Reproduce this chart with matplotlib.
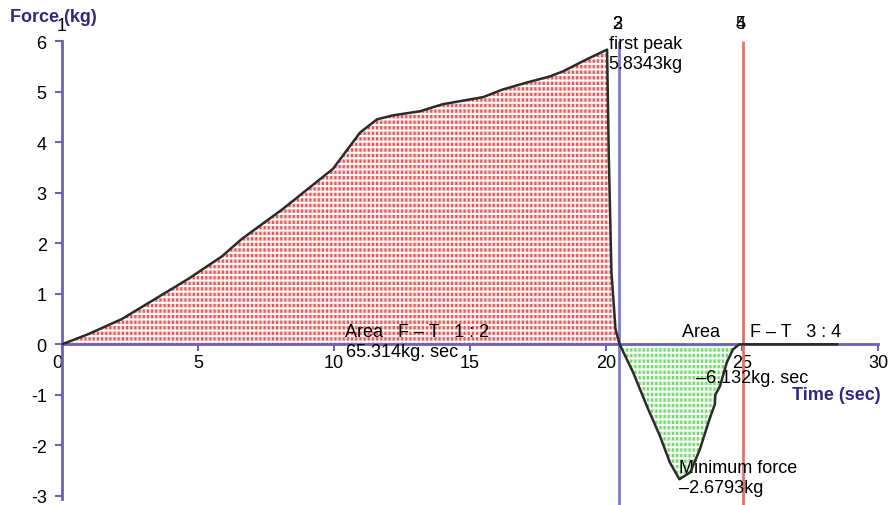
import numpy as np
import matplotlib; matplotlib.use("Agg")
import matplotlib.pyplot as plt

# force-time trace
t = [0, 0.96, 2.2, 3.4, 4.63, 5.88, 6.6, 8.1, 9.96, 10.96, 11.58, 12.17, 13.16, 14.0,
     15.48, 16.2, 17.1, 17.94, 18.42, 19.3, 20.04, 20.1, 20.2, 20.35, 20.5,
     21.0, 21.5, 21.98, 22.35, 22.7, 23.1, 23.45, 23.8, 24.0, 24.02, 24.19, 24.44,
     24.67, 24.9, 25.0, 28.5]
force = [0, 0.2, 0.5, 0.89, 1.29, 1.74, 2.08, 2.67, 3.47, 4.19, 4.45, 4.53, 4.61, 4.75,
         4.89, 5.04, 5.18, 5.3, 5.4, 5.64, 5.83, 3.8, 1.43, 0.3, 0,
         -0.56, -1.22, -1.81, -2.34, -2.67, -2.53, -2.08, -1.49, -1.19, -1.0, -0.83, -0.36,
         -0.1, 0, 0, 0]

markers = [20.48, 25.03]          # cursor lines 2/3 and 4/5
marker_colors = ["#7f7ac9", "#d9776b"]

AXC = "#6a62b8"
TXT = "#2e2a84"

plt.rcParams.update({"font.family": "Liberation Sans", "font.size": 13,
                     "axes.unicode_minus": False, "hatch.linewidth": 1.5})
fig = plt.figure(figsize=(8.93, 5.06), dpi=100)
ax = fig.add_axes([62 / 893, 1 - 500 / 506, (878 - 62) / 893, (500 - 42) / 506])

t = np.array(t); force = np.array(force)
pos = t <= 20.5
neg = (t >= 20.5) & (t <= 25.0)
# dotted fill: vertical red/green strokes cut into rows by white horizontal strokes
ax.fill_between(t[pos], 0, force[pos], facecolor="#f6d2d2", edgecolor="#e35a58",
                hatch="||||", lw=0, zorder=1)
ax.fill_between(t[pos], 0, force[pos], facecolor="none", edgecolor="white",
                hatch="---", lw=0, zorder=2)
ax.fill_between(t[neg], 0, force[neg], facecolor="#daf5d6", edgecolor="#74d870",
                hatch="||||", lw=0, zorder=1)
ax.fill_between(t[neg], 0, force[neg], facecolor="none", edgecolor="white",
                hatch="---", lw=0, zorder=2)
ax.plot(t, force, color="#2b2b2b", lw=1.8, zorder=4)

for x, c in zip(markers, marker_colors):
    ax.vlines(x, -3.18, 6, color=c, lw=2, clip_on=False, zorder=3)

ax.set_xlim(0, 30)
ax.set_ylim(-3.06, 6.0)
ax.set_xticks([0, 5, 10, 15, 20, 25, 30])
ax.set_yticks(range(-3, 7))
ax.spines["bottom"].set_position(("data", 0))
for s in ("top", "right"):
    ax.spines[s].set_visible(False)
for s in ("left", "bottom"):
    ax.spines[s].set_color(AXC)
    ax.spines[s].set_linewidth(2)
ax.tick_params(which="both", direction="out", length=5, width=1.5, color=AXC, labelsize=13)
ax.tick_params(axis="x", pad=2)
ax.tick_params(axis="y", pad=6)
ax.xaxis.get_major_ticks()[0].label1.set_horizontalalignment("right")

# axis titles
fig.text(10 / 893, 1 - 17 / 506, "Force (kg)", color=TXT, fontweight="bold", fontsize=13,
         ha="left", va="center")
ax.text(30.1, -1.0, "Time (sec)", color=TXT, fontweight="bold", fontsize=13,
        ha="right", va="center", clip_on=False)

# cursor numbers
ax.text(0.0, 6.3, "1", ha="center", va="center", fontsize=13, clip_on=False)
for x, labs in zip(markers, [("2", "3"), ("4", "5")]):
    for lab in labs:
        ax.text(x - 0.08, 6.35, lab, ha="center", va="center", fontsize=13, clip_on=False)

# annotations
ax.text(20.1, 6.12, "first peak\n5.8343kg", ha="left", va="top", fontsize=13, linespacing=1.2)
ax.text(10.4, 0.26, "Area   F – T   1 : 2", ha="left", va="center", fontsize=13)
ax.text(10.45, -0.14, "65.314kg. sec", ha="left", va="center", fontsize=13)
ax.text(22.8, 0.26, "Area      F – T   3 : 4", ha="left", va="center", fontsize=13)
ax.text(23.3, -0.65, "–6.132kg. sec", ha="left", va="center", fontsize=13)
ax.text(22.7, -2.27, "Minimum force\n–2.6793kg", ha="left", va="top", fontsize=13,
        linespacing=1.2)

fig.savefig("out.png", dpi=100)
